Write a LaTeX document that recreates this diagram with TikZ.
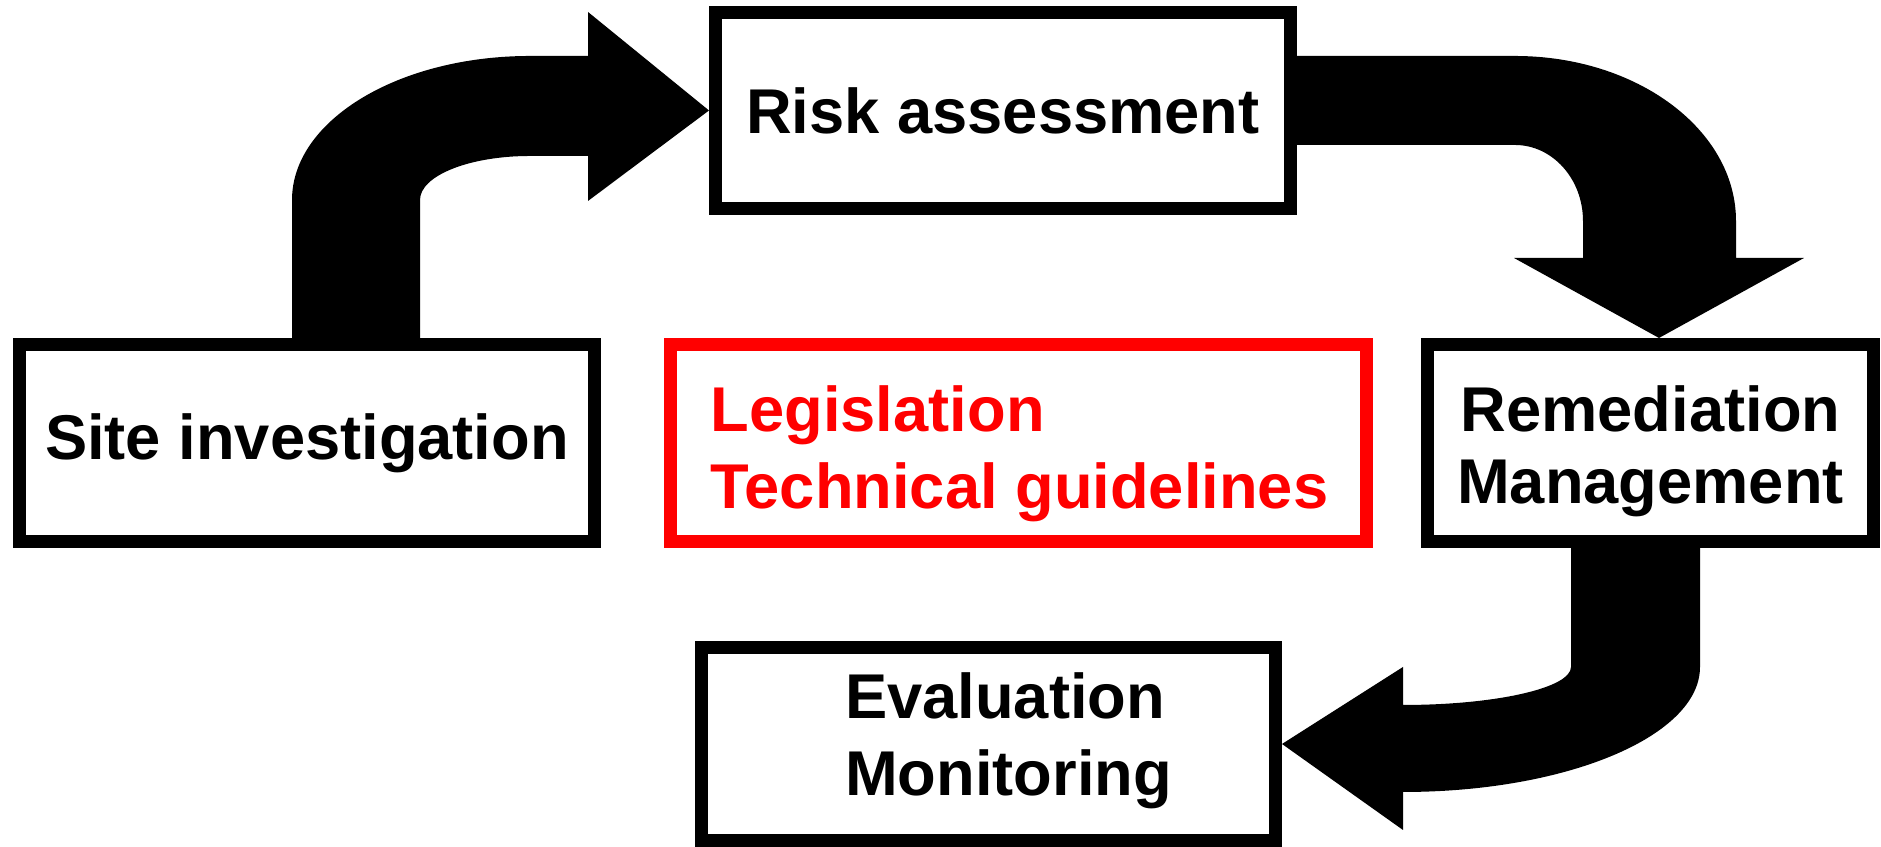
\documentclass[tikz,border=0pt]{standalone}
\usepackage{fontspec}
\setmainfont{Liberation Sans}
\definecolor{GuideRed}{RGB}{255,0,0}
\usetikzlibrary{calc}

\begin{document}
\begin{tikzpicture}[
  boxtext/.style={inner sep=0pt,font=\bfseries\fontsize{18}{21.9}\selectfont},
  stage/.style={boxtext,draw=black,line width=3.7pt,fill=white},
  guide/.style={stage,draw=GuideRed},
  flow/.style={fill=black}]
\useasboundingbox (0,0) rectangle (18.81,8.47);
% boxes
\node[stage,minimum width=5.75cm,minimum height=1.97cm] (site) at (3.07,4.04) {Site investigation};
\node[stage,minimum width=5.75cm,minimum height=1.96cm] (risk) at (10.03,7.365) {Risk assessment};
\node[guide,minimum width=6.96cm,minimum height=1.97cm] (legis) at (10.185,4.04) {};
\node[stage,minimum width=4.46cm,minimum height=1.97cm] (remed) at (16.505,4.04) {};
\node[stage,minimum width=5.74cm,minimum height=1.93cm] (eval) at (9.885,1.03) {};
% two-line texts
\node[boxtext,text=GuideRed,align=left] (legistext) at ($(legis)+(0.01,-0.11)$) {Legislation\\Technical guidelines};
\node[boxtext,align=center,font=\bfseries\fontsize{18}{20.5}\selectfont] (remedtext) at ($(remed)+(0,-0.085)$) {Remediation\\Management};
\node[boxtext,align=left] (evaltext) at ($(eval)+(0.2,0.03)$) {Evaluation\\Monitoring};
% site -> risk
\fill[flow] ($(site.north)+(-0.15,0)$) -- (2.92,6.47)
  arc[start angle=180,end angle=90,x radius=2.38,y radius=1.44]
  -- (5.88,7.91) -- (5.88,8.35) -- (risk.west) -- (5.88,6.46) -- (5.88,6.91) -- (5.30,6.91)
  arc[start angle=90,end angle=180,x radius=1.10,y radius=0.44]
  -- ($(site.north)+(1.13,0)$) -- cycle;
% risk -> remediation
\fill[flow] (risk.east |- 0,7.91) -- (15.15,7.91)
  arc[start angle=90,end angle=0,x radius=2.21,y radius=1.65]
  -- (17.36,5.89) -- (18.04,5.89) -- ($(remed.north)+(0.085,0)$) -- (15.14,5.89) -- (15.83,5.89) -- (15.83,6.26)
  arc[start angle=0,end angle=90,x radius=0.68,y radius=0.76]
  -- (risk.east |- 0,7.02) -- cycle;
% remediation -> evaluation
\fill[flow] (remed.south -| 17.00,0) -- (17.00,1.80)
  arc[start angle=0,end angle=-90,x radius=2.97,y radius=1.25]
  -- (14.03,0.17) -- (eval.east) -- (14.03,1.80) -- (14.03,1.42)
  arc[start angle=-90,end angle=0,x radius=1.68,y radius=0.38]
  -- (remed.south -| 15.71,0) -- cycle;
\end{tikzpicture}
\end{document}
